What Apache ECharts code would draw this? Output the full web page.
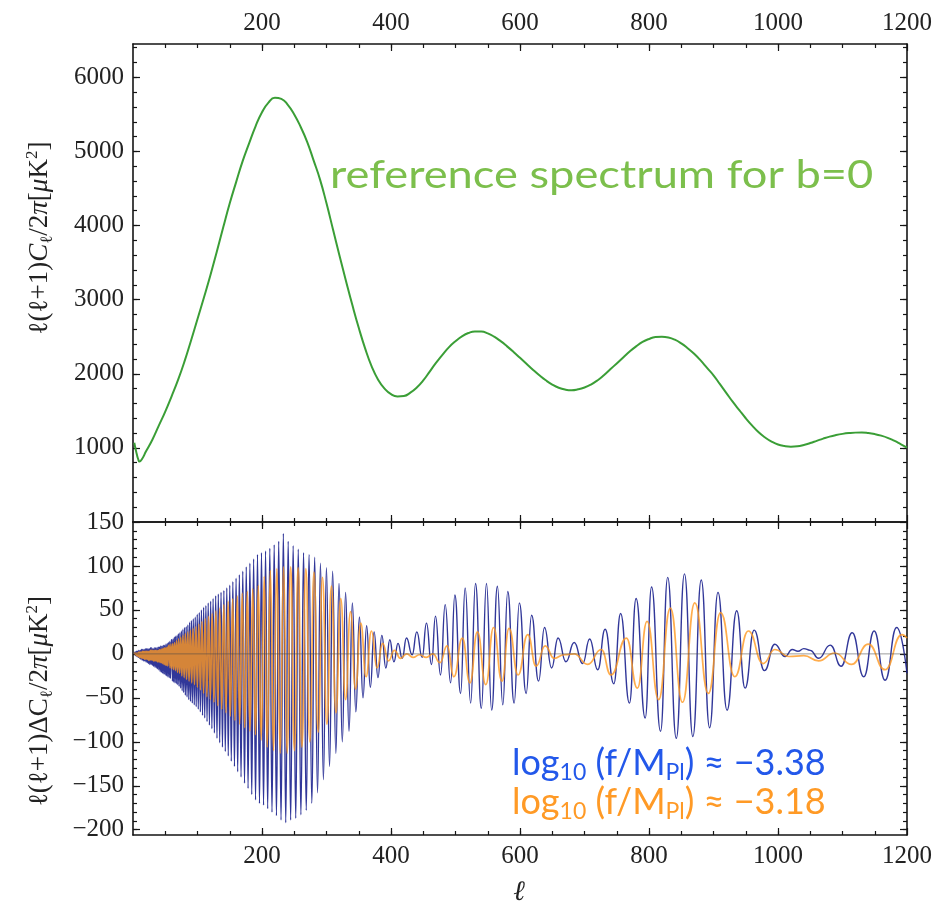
<!DOCTYPE html>
<html><head><meta charset="utf-8">
<script src="https://cdn.jsdelivr.net/npm/echarts@6/dist/echarts.min.js"></script>
<style>html,body{margin:0;padding:0;background:#fff}#c{width:943px;height:911px}</style>
</head><body><div id="c"></div>
<script>
// ---------------- data ----------------
const X_LABELS = [200, 400, 600, 800, 1000, 1200];
const TOP_Y_LABELS = [1000, 2000, 3000, 4000, 5000, 6000];
const BOT_Y_LABELS = [-200, -150, -100, -50, 0, 50, 100, 150];

// reference spectrum (l, value)
const greenPts = [[2,1070],[4,985],[6,910],[8,850],[10,815],[14,850],[20,950],[30,1110],[40,1300],[50,1490],[60,1700],[70,1920],[80,2170],[90,2450],[100,2740],[110,3030],[120,3330],[130,3650],[140,3980],[150,4300],[160,4590],[170,4870],[180,5110],[190,5340],[200,5530],[210,5660],[220,5725],[230,5710],[240,5630],[250,5500],[260,5330],[270,5130],[280,4880],[290,4620],[300,4300],[310,3950],[320,3600],[330,3260],[340,2930],[350,2620],[360,2340],[370,2100],[380,1920],[390,1800],[400,1725],[410,1695],[420,1700],[430,1745],[440,1815],[450,1910],[460,2030],[470,2150],[480,2260],[490,2360],[500,2440],[510,2505],[520,2550],[530,2572],[540,2570],[550,2545],[560,2500],[570,2440],[580,2370],[590,2295],[600,2215],[610,2135],[620,2055],[630,1980],[640,1912],[650,1855],[660,1812],[670,1787],[680,1778],[690,1790],[700,1815],[710,1855],[720,1910],[730,1980],[740,2060],[750,2140],[760,2220],[770,2300],[780,2370],[790,2430],[800,2470],[810,2495],[820,2500],[830,2490],[840,2460],[850,2410],[860,2345],[870,2270],[880,2180],[890,2080],[900,1980],[910,1860],[920,1740],[930,1620],[940,1510],[950,1400],[960,1300],[970,1210],[980,1140],[990,1085],[1000,1045],[1010,1025],[1020,1017],[1030,1022],[1040,1040],[1050,1065],[1060,1095],[1070,1125],[1080,1152],[1090,1173],[1100,1189],[1110,1200],[1120,1206],[1130,1207],[1140,1200],[1150,1186],[1160,1165],[1170,1136],[1180,1097],[1190,1052],[1200,1005]];

// log10(f/MPl) = -3.38 (blue)
const blueLow = [[2,0],[3,2],[4,-2],[5,3],[6,-3],[7,3],[8,-4],[9,4],[10,-5],[11,4],[12,-6],[13,5],[14,-7],[15,5],[16,-8],[17,5],[18,-8],[19,6],[20,-9],[21,6],[22,-10],[23,6],[24,-11],[25,6],[26,-12],[27,7],[28,-12],[29,7],[30,-13],[31,6],[32,-14],[33,7],[34,-15],[35,7],[36,-16],[37,7],[38,-17],[39,8],[40,-18],[41,8],[42,-20],[43,9],[44,-21],[45,9],[46,-22],[47,10],[48,-23],[49,10],[50,-24],[51,11],[52,-25],[53,12],[54,-26],[55,13],[56,-27],[57,14],[58,-28],[59,15]];
const blueMid = [[60.2,16],[61.2,-31],[62.1,17],[63.1,-32],[64.1,19],[65.1,-33],[66.1,20],[67.2,-34],[68.3,21],[69.4,-35],[70.4,23],[71.5,-37],[72.7,24],[73.9,-39],[75.0,26],[76.2,-42],[77.4,28],[78.6,-44],[79.9,30],[81.2,-47],[82.5,31],[83.8,-49],[85.1,33],[86.5,-52],[87.8,36],[89.2,-54],[90.6,38],[92.0,-56],[93.5,40],[95.0,-58],[96.5,42],[98.0,-60],[99.6,45],[101.2,-63],[102.8,47],[104.4,-66],[106.1,50],[107.8,-70],[109.5,53],[111.2,-73],[113.0,55],[114.8,-77],[116.6,58],[118.5,-81],[120.4,60],[122.3,-85],[124.2,63],[126.2,-90],[128.2,66],[130.2,-96],[132.3,68],[134.4,-101],[136.5,70],[138.7,-106],[140.9,72],[143.1,-111],[145.4,75],[147.7,-116],[150.0,78],[152.4,-122],[154.8,82],[157.3,-128],[159.8,86],[162.3,-134],[164.9,90],[167.5,-140],[170.2,94],[172.9,-147],[175.6,99],[178.4,-153],[181.2,103],[184.1,-160],[187.0,108],[190.0,-166],[193.0,113],[196.1,-170],[199.2,115],[202.4,-172],[205.5,117],[208.8,-176],[212.1,120],[215.5,-180],[218.9,124],[222.4,-184],[225.9,128],[229.5,-189],[233.1,137],[236.8,-192],[240.6,128],[244.4,-189],[248.3,123],[252.3,-187],[256.2,119],[260.3,-183],[264.4,115],[268.6,-178],[272.9,113],[277.3,-170],[281.6,110],[286.1,-158],[290.6,103],[295.2,-143],[299.9,98],[304.7,-128],[309.5,94],[314.5,-113],[319.4,80],[324.5,-100],[329.6,70],[334.9,-88],[340.1,58],[345.5,-66],[351.0,42],[356.6,-50],[362.2,32],[368.0,-38],[373.8,25],[379.8,-27],[385.8,21],[392.0,-16],[398.1,16],[404.5,-9],[410.9,12],[417.4,-5],[424,18]];
const blueHigh = [[432.8,-1],[440,25],[448.3,-4],[455,35],[462.8,-12],[469,43],[476.8,-24],[484,56],[492.4,-33],[499,67],[507.9,-45],[515,75],[523.5,-56],[531,80],[540.1,-62],[548,80],[556.1,-64],[565,77],[573.3,-58],[581,71],[590.9,-56],[599,58],[609.5,-45],[618,44],[628.8,-31],[638,30],[649,-16],[659,18],[671.2,-9],[684,13],[697.2,-11],[708,17],[720.5,-18],[732,28],[745.4,-34],[756,46],[769.7,-56],[780,63],[794.1,-73],[804,76],[817.9,-88],[829,87],[842.3,-96],[855,91],[868,-94],[881,84],[894,-84],[907,70],[921,-64],[936,49],[949,-39],[963,27],[979,-19],[995,11],[1011,-3],[1022,5],[1031,3],[1040,6],[1050,4],[1063,-5],[1081,10],[1098,-14],[1115,24],[1133,-26],[1149,26],[1166,-30],[1184,30],[1200,-22]];

// log10(f/MPl) = -3.18 (orange)
const orangeLow = [[2,0],[3,1],[4,-1],[5,1],[6,-2],[7,1],[8,-3],[9,2],[10,-4],[11,2],[12,-4],[13,2],[14,-5],[15,3],[16,-5],[17,3],[18,-6],[19,3],[20,-6],[21,3],[22,-6],[23,3],[24,-7],[25,3],[26,-7],[27,4],[28,-7],[29,4],[30,-7],[31,4],[32,-8],[33,4],[34,-8],[35,4],[36,-8],[37,4],[38,-9],[39,4],[40,-9],[41,5],[42,-10],[43,5],[44,-10],[45,6],[46,-11],[47,6],[48,-12],[49,7],[50,-13],[51,7],[52,-13],[53,8],[54,-14],[55,9]];
const orangeMid = [[56.2,10],[57.5,-16],[58.8,11],[60.2,-17],[61.6,12],[63.0,-18],[64.5,13],[66.0,-19],[67.5,15],[69.1,-21],[70.7,17],[72.3,-22],[74.0,19],[75.7,-25],[77.5,21],[79.3,-27],[81.1,23],[83.0,-29],[84.9,25],[86.9,-31],[88.9,27],[91.0,-33],[93.1,29],[95.3,-35],[97.5,31],[99.8,-38],[102.1,34],[104.5,-41],[106.9,37],[109.4,-45],[111.9,40],[114.5,-49],[117.2,43],[119.9,-52],[122.7,46],[125.5,-55],[128.5,49],[131.5,-59],[134.5,52],[137.6,-63],[140.8,56],[144.1,-67],[147.5,60],[150.9,-71],[154.4,63],[158.0,-76],[161.7,66],[165.4,-80],[169.3,69],[173.2,-84],[177.2,71],[181.3,-88],[185.6,74],[189.9,-92],[194.3,78],[198.8,-98],[203.4,88],[208.1,-106],[213.0,95],[217.9,-110],[223.0,97],[228.2,-113],[233.5,99],[238.9,-113],[244.5,99],[250.2,-110],[256.0,98],[261.9,-106],[268.0,97],[274.2,-100],[280.6,93],[287.1,-89],[293.8,87],[300.6,-80],[307.6,77],[314.7,-67],[322.1,63],[329.6,-52],[337.2,48],[345.0,-40],[353.1,35],[361.3,-26],[369.7,26],[378.3,-16],[387.1,12],[396.1,-8],[405.3,4],[414.7,-5],[424.3,0],[434.1,-4],[444.3,-1],[454.6,-4],[465.1,0],[475.9,-10],[487,9],[497.5,-26]];
const orangeHigh = [[510.6,18],[522.4,-33],[534,25],[547,-35],[559,30],[572,-31],[583,29],[597,-24],[612,22],[625,-14],[639,9],[653,-5],[668,-1],[684,0],[705,-12],[726,5],[741,-24],[765,18],[782,-39],[797,37],[815,-52],[833,52],[852,-55],[871,58],[892,-45],[911,47],[933,-26],[954,26],[977,-11],[995,5],[1017,-3],[1040,-2],[1063,-8],[1088,1],[1114,-12],[1140,11],[1166,-18],[1192,22],[1200,18]];

// ---------------- chart ----------------
function steps(a, b, s) { const r = []; for (let v = a; v <= b + 1e-9; v += s) r.push(v); return r; }
const X_MINOR = steps(50, 1150, 50);
const TOP_Y_MINOR = steps(200, 6400, 200);
const BOT_Y_MINOR = steps(-200, 140, 10);

const FRAME = '#151515';
const SERIF = 'Liberation Serif, DejaVu Serif, serif';
const labelStyle = { color: '#222', fontFamily: SERIF, fontSize: 25 };

function axis(gridIndex, position, min, max, ticks, len, line, labels, margin) {
  return {
    type: 'value', gridIndex, position, min, max,
    axisLine: { show: line, onZero: false, lineStyle: { color: FRAME, width: 1.6 } },
    axisTick: { show: true, inside: true, length: len, customValues: ticks, lineStyle: { color: FRAME, width: 1.2 } },
    axisLabel: labels ? Object.assign({ show: true, customValues: labels, margin: margin,
      formatter: v => String(v).replace('-', '\u2212') }, labelStyle) : { show: false },
    splitLine: { show: false }, minorTick: { show: false }
  };
}
const TMIN = 0, TMAX = 6450, BMIN = -206, BMAX = 150;
const xAxes = [
  axis(0, 'top', 0, 1200, X_LABELS, 7, true, X_LABELS, 8),
  axis(0, 'top', 0, 1200, X_MINOR, 4, false),
  axis(0, 'bottom', 0, 1200, X_LABELS, 7, true),
  axis(0, 'bottom', 0, 1200, X_MINOR, 4, false),
  axis(1, 'top', 0, 1200, X_LABELS, 7, true),
  axis(1, 'top', 0, 1200, X_MINOR, 4, false),
  axis(1, 'bottom', 0, 1200, X_LABELS, 7, true, X_LABELS, 9),
  axis(1, 'bottom', 0, 1200, X_MINOR, 4, false)
];
const yAxes = [
  axis(0, 'left', TMIN, TMAX, TOP_Y_LABELS, 7, true, TOP_Y_LABELS, 9),
  axis(0, 'left', TMIN, TMAX, TOP_Y_MINOR, 4, false),
  axis(0, 'right', TMIN, TMAX, TOP_Y_LABELS, 7, true),
  axis(0, 'right', TMIN, TMAX, TOP_Y_MINOR, 4, false),
  axis(1, 'left', BMIN, BMAX, BOT_Y_LABELS, 7, true, BOT_Y_LABELS, 9),
  axis(1, 'left', BMIN, BMAX, BOT_Y_MINOR, 4, false),
  axis(1, 'right', BMIN, BMAX, BOT_Y_LABELS, 7, true),
  axis(1, 'right', BMIN, BMAX, BOT_Y_MINOR, 4, false)
];

const richLabel = {
  n: { fontFamily: SERIF, fontSize: 27, fill: '#222', lineHeight: 32 },
  i: { fontFamily: SERIF, fontSize: 27, fontStyle: 'italic', fill: '#222', lineHeight: 32 },
  s: { fontFamily: SERIF, fontSize: 17, fill: '#222', lineHeight: 17, verticalAlign: 'bottom' },
  p: { fontFamily: SERIF, fontSize: 17, fill: '#222', lineHeight: 17, verticalAlign: 'top' }
};
const SANS = 'Lato, Open Sans, sans-serif';
function logRich(color) {
  return {
    a: { fontFamily: SANS, fontSize: 36, fill: color, lineHeight: 42 },
    s: { fontFamily: SANS, fontSize: 23, fill: color, lineHeight: 23, verticalAlign: 'bottom' }
  };
}

const graphics = [
  { type: 'text', x: 40, y: 238, rotation: Math.PI / 2,
    style: { text: '{n|ℓ(ℓ+1)}{i|C}{s|ℓ}{n|/2}{i|π}{n|[}{i|μ}{n|K}{p|2}{n|]}', rich: richLabel, align: 'center', verticalAlign: 'middle' } },
  { type: 'text', x: 40, y: 701, rotation: Math.PI / 2,
    style: { text: '{n|ℓ(ℓ+1)ΔC}{s|ℓ}{n|/2}{i|π}{n|[}{i|μ}{n|K}{p|2}{n|]}', rich: richLabel, align: 'center', verticalAlign: 'middle' } },
  { type: 'text', x: 519, y: 893,
    style: { text: 'ℓ', font: 'italic 28px ' + SERIF, fill: '#222', align: 'center', verticalAlign: 'middle' } },
  { type: 'text', x: 330, y: 175, scaleX: 1.16,
    style: { text: 'reference spectrum for b=0', font: '39px ' + SANS, fill: '#7cbf4c', align: 'left', verticalAlign: 'middle' } },
  { type: 'text', x: 512, y: 763,
    style: { text: '{a|log}{s|10}{a| (f/M}{s|Pl}{a|) ≈ −3.38}', rich: logRich('#2358ea'), align: 'left', verticalAlign: 'middle' } },
  { type: 'text', x: 512, y: 802,
    style: { text: '{a|log}{s|10}{a| (f/M}{s|Pl}{a|) ≈ −3.18}', rich: logRich('#ff9a26'), align: 'left', verticalAlign: 'middle' } }
];

const chart = echarts.init(document.getElementById('c'), null, { renderer: 'canvas' });
chart.setOption({
  animation: false,
  backgroundColor: '#fff',
  grid: [
    { left: 133, right: 36, top: 44, height: 478 },
    { left: 133, right: 36, top: 522, height: 313 }
  ],
  xAxis: xAxes,
  yAxis: yAxes,
  series: [
    { type: 'line', xAxisIndex: 0, yAxisIndex: 0, data: greenPts, smooth: 0.5, showSymbol: false,
      lineStyle: { color: '#3a9e36', width: 2 } },
    { type: 'line', xAxisIndex: 6, yAxisIndex: 4, data: blueLow.concat(blueMid, blueHigh), smooth: 0.5,
      smoothMonotone: 'x', showSymbol: false, lineStyle: { color: '#1b218e', width: 1.4, opacity: 0.9 } },
    { type: 'line', xAxisIndex: 6, yAxisIndex: 4, data: orangeLow.concat(orangeMid, orangeHigh), smooth: 0.5,
      smoothMonotone: 'x', showSymbol: false, lineStyle: { color: '#ff9820', width: 1.7, opacity: 0.8 } },
    { type: 'line', xAxisIndex: 6, yAxisIndex: 4, data: [[0, 0], [1200, 0]], showSymbol: false, silent: true,
      lineStyle: { color: '#444', width: 0.9, opacity: 0.6 }, z: 5 }
  ],
  graphic: graphics
});
</script></body></html>
